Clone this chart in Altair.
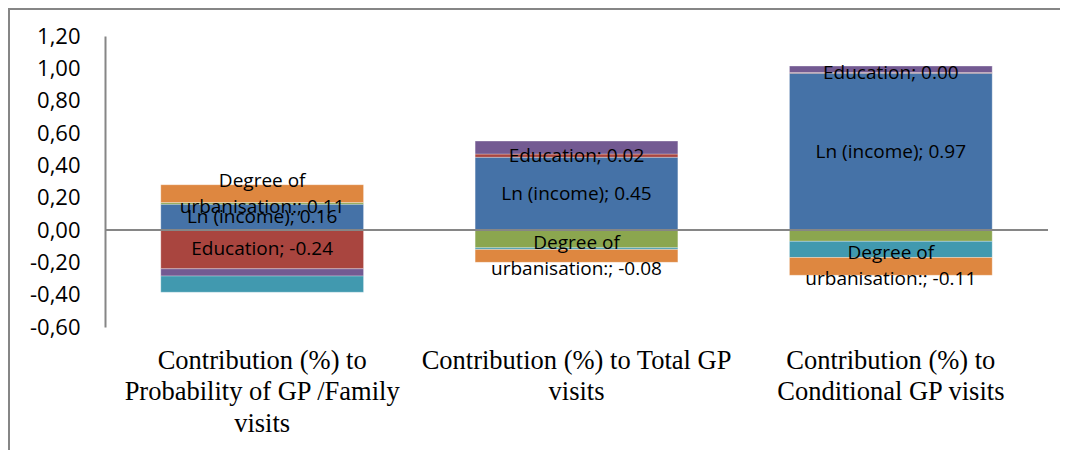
import altair as alt
import pandas as pd

# ---- data ----
categories = [
    "Contribution (%) to|Probability of GP /Family|visits",
    "Contribution (%) to Total GP|visits",
    "Contribution (%) to|Conditional GP visits",
]
series_names = ["Ln (income)", "Education", "Series 3", "Series 4", "Series 5",
                "Degree of|urbanisation:"]
series_colors = ["#4572A7", "#A9453F", "#8BA64F", "#735A92", "#4199AF", "#DE8740"]

ln_income = [0.16, 0.45, 0.97]
education = [-0.24, 0.02, 0.004]
series3 = [0.01, -0.11, -0.07]
series4 = [-0.045, 0.08, 0.04]
series5 = [-0.10, -0.01, -0.10]
urbanisation = [0.11, -0.08, -0.11]
labelled_series = ["Ln (income)", "Education", "Degree of|urbanisation:"]

y_ticks = [-0.6, -0.4, -0.2, 0.0, 0.2, 0.4, 0.6, 0.8, 1.0, 1.2]

all_series = [ln_income, education, series3, series4, series5, urbanisation]
rows = []
for si, (name, vals) in enumerate(zip(series_names, all_series)):
    for ci, cat in enumerate(categories):
        v = vals[ci]
        lab = f"{name}; {v:.2f}" if name in labelled_series else ""
        rows.append({"category": cat, "series": name, "sidx": si,
                     "value": v, "label": lab,
                     "lines": lab.count("|") + 1 if lab else 0})
df = pd.DataFrame(rows)

W, H = 943, 291
GRAY = "#868686"
LINE_H = 26

x_scale = alt.Scale(paddingInner=0.355, paddingOuter=0.1775)
x_axis = alt.Axis(
    title=None, domain=False, ticks=False, labelAngle=0,
    labelExpr="split(datum.label, '|')",
    labelFont="Liberation Serif", labelFontSize=26.5, labelLineHeight=31.5,
    labelColor="black", labelPadding=20, labelBaseline="top",
    labelLimit=600, labelOverlap=False,
)
y_scale = alt.Scale(domain=[-0.6, 1.2], nice=False, zero=False)
y_axis = alt.Axis(
    title=None, values=y_ticks, grid=False, ticks=False,
    domainColor=GRAY, domainWidth=2, labelOverlap=False,
    labelExpr="(datum.value < -0.001 ? '-' : '') + replace(format(abs(datum.value), '.2f'), '.', ',')",
    labelFont="Open Sans", labelFontSize=22, labelColor="black",
    labelPadding=25,
)

base = alt.Chart(df)

bars = base.mark_bar(stroke="white", strokeWidth=0.6, strokeOpacity=0.5).encode(
    x=alt.X("category:N", sort=categories, scale=x_scale, axis=x_axis),
    y=alt.Y("value:Q", stack="zero", scale=y_scale, axis=y_axis),
    color=alt.Color("series:N", scale=alt.Scale(domain=series_names, range=series_colors),
                    legend=None),
    order=alt.Order("sidx:Q", sort="ascending"),
)

zero_line = alt.Chart(pd.DataFrame({"z": [0]})).mark_rule(
    color=GRAY, strokeWidth=2
).encode(y=alt.Y("z:Q", scale=y_scale, axis=y_axis), x=alt.value(0), x2=alt.value(W))

stacked = base.transform_stack(
    stack="value", as_=["y0", "y1"], groupby=["category"],
    sort=[alt.SortField("sidx", order="ascending")], offset="zero",
).transform_calculate(mid="(datum.y0 + datum.y1) / 2")

text_style = dict(font="Open Sans", fontSize=19, lineBreak="|", lineHeight=LINE_H,
                  baseline="middle", align="center", color="black")
text_enc = dict(x=alt.X("category:N", sort=categories, scale=x_scale, axis=x_axis),
                y=alt.Y("mid:Q", scale=y_scale, axis=y_axis), text="label:N")

labels_one = stacked.transform_filter("datum.lines == 1").mark_text(
    **text_style).encode(**text_enc)
labels_two = stacked.transform_filter("datum.lines == 2").mark_text(
    dy=-LINE_H / 2, **text_style).encode(**text_enc)

frame_df = pd.DataFrame({"f": [0]})
frame_left = alt.Chart(frame_df).mark_rule(color=GRAY, strokeWidth=2).encode(
    x=alt.value(-96), y=alt.value(-28), y2=alt.value(420))
frame_top = alt.Chart(frame_df).mark_rule(color=GRAY, strokeWidth=2).encode(
    y=alt.value(-27), x=alt.value(-97), x2=alt.value(980))

chart = alt.layer(bars, zero_line, labels_one, labels_two, frame_left, frame_top).properties(
    width=W, height=H,
    autosize=alt.AutoSizeParams(type="none"),
    padding={"left": 97, "top": 28, "right": 12, "bottom": 123},
).configure_view(stroke=None).configure_axisY(labelOverlap=False)

chart.save("out.html", embed_options={"renderer": "svg", "actions": False})
